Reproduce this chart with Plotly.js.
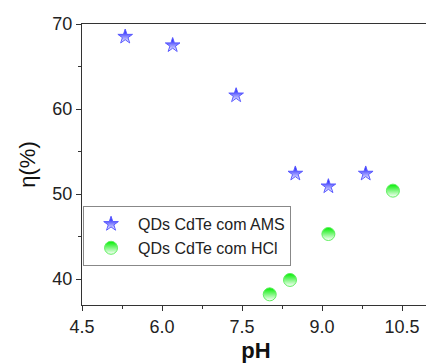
<!DOCTYPE html>
<html>
<head>
<meta charset="utf-8">
<script src="https://cdn.plot.ly/plotly-3.0.1.min.js"></script>
<style>
html, body { margin: 0; padding: 0; overflow: hidden; background: #fff; }
#chart { width: 430px; height: 363px; }
</style>
</head>
<body>
<div id="chart"></div>
<script>
// Data
const amsPH = [5.31, 6.20, 7.39, 8.50, 9.12, 9.82];
const amsEta = [68.5, 67.5, 61.6, 52.4, 50.9, 52.4];
const hclPH = [8.02, 8.40, 9.12, 10.33];
const hclEta = [38.2, 39.9, 45.3, 50.4];
const amsName = 'QDs CdTe com AMS';
const hclName = 'QDs CdTe com HCl';
const xTicks = [4.5, 6.0, 7.5, 9.0, 10.5];
const xTickText = ['4.5', '6.0', '7.5', '9.0', '10.5'];
const yTicks = [40, 50, 60, 70];

const font = 'Liberation Sans, Arial, sans-serif';

const traces = [
  {
    x: amsPH, y: amsEta, name: amsName, type: 'scatter', mode: 'markers',
    marker: {
      symbol: 'star', size: 11, color: '#0000ff',
      gradient: {type: 'vertical', color: '#ffffff'},
      line: {color: '#5a5aff', width: 1}
    }
  },
  {
    x: hclPH, y: hclEta, name: hclName, type: 'scatter', mode: 'markers',
    marker: {
      symbol: 'circle', size: 13, color: '#00ee00',
      gradient: {type: 'vertical', color: '#ffffff'},
      line: {color: '#60f060', width: 1}
    }
  }
];

const layout = {
  width: 430, height: 363,
  margin: {l: 82, r: 0, t: 24, b: 58},
  paper_bgcolor: '#ffffff', plot_bgcolor: '#ffffff',
  font: {family: font, size: 18, color: '#222'},
  showlegend: true,
  legend: {
    x: 0.003, xanchor: 'left', y: 0.352, yanchor: 'top',
    bgcolor: '#ffffff', bordercolor: '#888888', borderwidth: 1,
    font: {family: font, size: 16, color: '#222'},
    itemwidth: 44, tracegroupgap: 0
  },
  xaxis: {
    range: [4.5, 11.025], showgrid: false, zeroline: false,
    tickmode: 'array', tickvals: xTicks, ticktext: xTickText,
    ticks: 'outside', ticklen: 5, tickwidth: 1, tickcolor: '#333',
    showline: true, linecolor: '#333', linewidth: 1, mirror: true,
    tickfont: {family: font, size: 18, color: '#222'},
    minor: {dtick: 0.75, tick0: 4.5, ticks: 'outside', ticklen: 3, tickcolor: '#333', showgrid: false},
    title: {text: '<b>pH</b>', font: {family: font, size: 22, color: '#111'}, standoff: 8}
  },
  yaxis: {
    range: [36.95, 70], showgrid: false, zeroline: false,
    tickmode: 'array', tickvals: yTicks,
    ticks: 'outside', ticklen: 5, tickwidth: 1, tickcolor: '#333',
    showline: true, linecolor: '#333', linewidth: 1, mirror: true,
    tickfont: {family: font, size: 18, color: '#222'},
    minor: {dtick: 5, tick0: 35, ticks: 'outside', ticklen: 3, tickcolor: '#333', showgrid: false},
    title: {text: 'η(%)', font: {family: font, size: 22, color: '#111'}, standoff: 10}
  }
};

Plotly.newPlot('chart', traces, layout, {displayModeBar: false, staticPlot: true});
</script>
</body>
</html>
